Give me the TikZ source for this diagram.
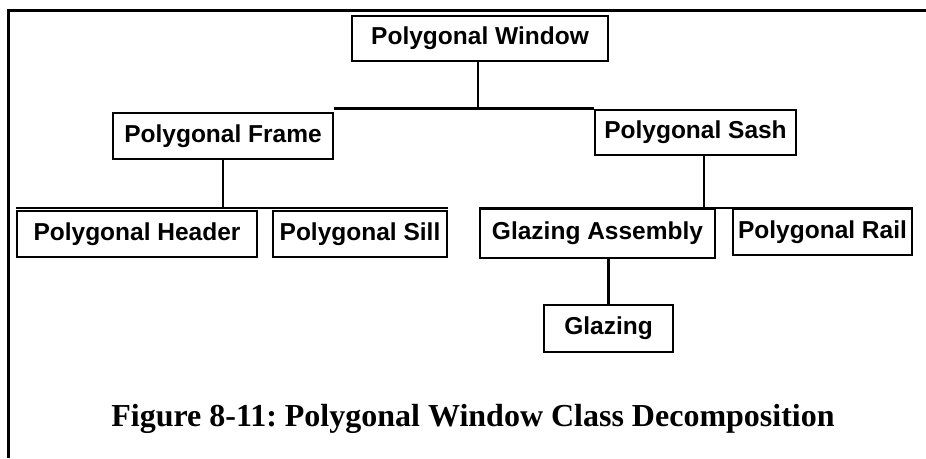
\documentclass[tikz,border=0pt]{standalone}
\usepackage{fontspec}
\setmainfont{Liberation Serif}
\newfontfamily\boxfont{Liberation Sans}
\frenchspacing
\begin{document}
\begin{tikzpicture}[x=1pt,y=-1pt,
  cls/.style={draw,line width=2.4pt,inner sep=0pt,font=\boxfont\bfseries\fontsize{24.5}{30}\selectfont,align=center},
  conn/.style={line width=2.4pt}]
\useasboundingbox (0,0) rectangle (926,458);
% frame
\draw[line width=3pt] (8,458) -- (8,10) -- (926,10);
% classes
\node[cls,minimum width=256pt,minimum height=45pt] (pw) at (480,38.5) {Polygonal Window};
\node[cls,minimum width=220pt,minimum height=46pt] (pf) at (223,136) {Polygonal Frame};
\node[cls,minimum width=201pt,minimum height=45pt] (ps) at (695.5,132.5) {Polygonal Sash};
\node[cls,minimum width=240pt,minimum height=46pt] (hdr) at (137,234) {Polygonal Header};
\node[cls,minimum width=174pt,minimum height=46pt] (sill) at (360,234) {Polygonal Sill};
\node[cls,minimum width=235pt,minimum height=49pt] (ga) at (597.5,233.5) {Glazing Assembly};
\node[cls,minimum width=179pt,minimum height=46pt] (pr) at (822.5,232) {Polygonal Rail};
\node[cls,minimum width=129pt,minimum height=47pt] (gl) at (608.5,328.5) {Glazing};
% bus points
\coordinate (b1) at (478,108.5);
\coordinate (b2) at (223,208);
\coordinate (b3) at (704,208);
% connectors
\draw[conn] (pw.south -| b1) -- (b1);
\draw[conn] (pf.north east |- b1) -- (ps.north west |- b1);
\draw[conn] (pf.south) -- (b2);
\draw[conn] (hdr.north west |- b2) -- (sill.north east |- b2);
\draw[conn] (ps.south -| b3) -- (b3);
\draw[conn] (ga.north west |- b3) -- (pr.north east |- b3);
\draw[conn] (gl.north |- ga.south) -- (gl.north);
% caption
\node[anchor=base,inner sep=0pt,font=\bfseries\fontsize{32}{38}\selectfont] (cap) at (473,426) {Figure 8-11: Polygonal Window Class Decomposition};
\end{tikzpicture}
\end{document}
